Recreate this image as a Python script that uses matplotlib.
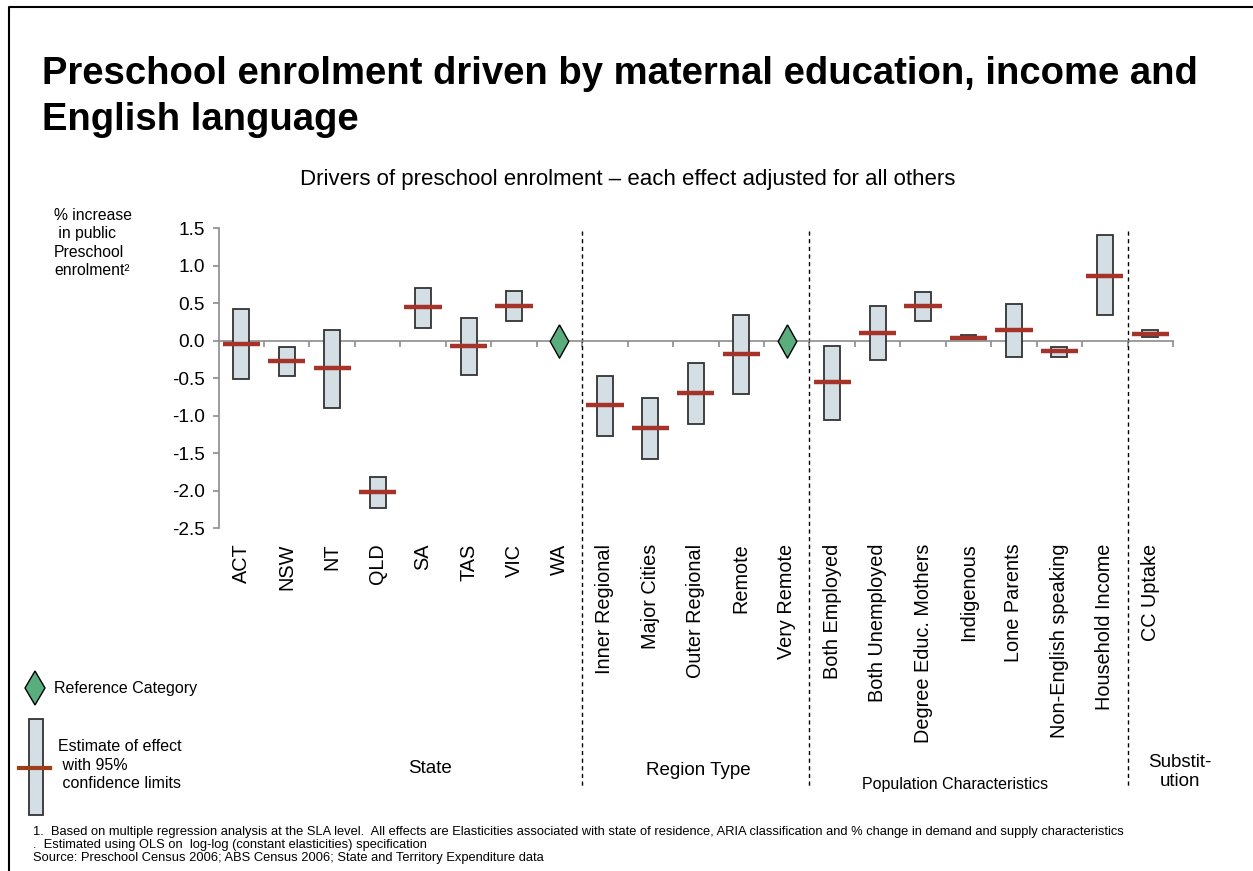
import matplotlib
matplotlib.use("Agg")
import matplotlib.pyplot as plt
from matplotlib.patches import Rectangle, Polygon
from matplotlib.lines import Line2D
import numpy as np

plt.rcParams['font.family'] = ['Liberation Sans', 'DejaVu Sans']

# ---- data -------------------------------------------------------------
categories = ["ACT", "NSW", "NT", "QLD", "SA", "TAS", "VIC", "WA",
              "Inner Regional", "Major Cities", "Outer Regional", "Remote", "Very Remote",
              "Both Employed", "Both Unemployed", "Degree Educ. Mothers", "Indigenous",
              "Lone Parents", "Non-English speaking", "Household Income",
              "CC Uptake"]
# None marks the reference category of each group
estimate = [-0.04, -0.27, -0.36, -2.02, 0.45, -0.07, 0.46, None,
            -0.86, -1.16, -0.69, -0.18, None,
            -0.55, 0.11, 0.46, 0.04, 0.15, -0.14, 0.86,
            0.095]
lower = [-0.505, -0.47, -0.89, -2.23, 0.175, -0.45, 0.27, None,
         -1.27, -1.57, -1.11, -0.705, None,
         -1.06, -0.25, 0.27, 0.02, -0.21, -0.21, 0.34,
         0.05]
upper = [0.42, -0.08, 0.14, -1.82, 0.71, 0.30, 0.67, None,
         -0.465, -0.76, -0.30, 0.34, None,
         -0.065, 0.47, 0.655, 0.08, 0.49, -0.08, 1.41,
         0.14]
group_breaks = [8, 13, 20]
yticks = [1.5, 1.0, 0.5, 0.0, -0.5, -1.0, -1.5, -2.0, -2.5]

# ---- styling ----------------------------------------------------------
W, H = 1253, 871
BOX_FILL = "#d3dfe4"
BOX_EDGE = "#333333"
EST_RED = "#a5332a"
DIAMOND = "#5aae7e"
AXIS_GREY = "#8c8c8c"


def fx(px):
    return px / W


def fy(py):
    return 1 - py / H


fig = plt.figure(figsize=(W / 100, H / 100), dpi=100)
ax = fig.add_axes([fx(218.6), fy(528.3), fx(1173) - fx(218.6), fy(228.3) - fy(528.3)])

n = len(categories)
xs = np.arange(n) + 0.5

for x, est, lo, hi in zip(xs, estimate, lower, upper):
    if est is None:
        diamond = [(0, 1), (0.56, 0), (0, -1), (-0.56, 0), (0, 1)]
        ax.plot([x], [0], marker=diamond, ms=24, mfc=DIAMOND, mec="black",
                mew=1.0, zorder=5, clip_on=False)
        continue
    ax.bar(x, hi - lo, bottom=lo, width=0.35, color=BOX_FILL,
           edgecolor=BOX_EDGE, linewidth=1.3, zorder=3)
    ax.hlines(est, x - 0.41, x + 0.41, color=EST_RED, linewidth=3.2, zorder=4)

ax.set_xlim(0, n)
ax.set_ylim(-2.5, 1.5)

# axes: grey y-axis, horizontal zero line carrying the category ticks
for s in ("top", "right"):
    ax.spines[s].set_visible(False)
ax.spines["left"].set_color(AXIS_GREY)
ax.spines["left"].set_linewidth(1.2)
ax.spines["bottom"].set_position(("data", 0))
ax.spines["bottom"].set_color(AXIS_GREY)
ax.spines["bottom"].set_linewidth(1.2)
ax.set_xticks(np.arange(1, n + 1))
ax.set_xticklabels([])
ax.tick_params(axis="x", direction="out", length=4, width=1.2, color=AXIS_GREY)
ax.set_yticks(yticks)
ax.set_yticklabels([f"{v:.1f}" for v in yticks], fontsize=13.7)
ax.tick_params(axis="y", direction="out", length=4, width=1.2,
               color=AXIS_GREY, pad=6)

# category names under the plotting area
for x, name in zip(xs, categories):
    ax.annotate(name, xy=(x, 0), xycoords=("data", "axes fraction"),
                xytext=(0, -11), textcoords="offset points",
                rotation=90, ha="center", va="top", fontsize=14.3)

# dashed group separators
for b in group_breaks:
    ax.plot([b, b], [1.47, -5.95], color="black", lw=1.0,
            ls=(0, (3, 2.5)), clip_on=False, zorder=2)

# group names
fig.text(fx(430), fy(768), "State", ha="center", va="center", fontsize=13.5)
fig.text(fx(698), fy(770), "Region Type", ha="center", va="center", fontsize=13.5)
fig.text(fx(955), fy(784), "Population Characteristics", ha="center",
         va="center", fontsize=11.5)
fig.text(fx(1180), fy(772), "Substit-\nution", ha="center", va="center",
         fontsize=13.5, linespacing=1.1)

# titles
fig.text(fx(42), fy(97), "Preschool enrolment driven by maternal education, income and\nEnglish language",
         ha="left", va="center", fontsize=27.5, fontweight="bold", linespacing=1.33)
fig.text(fx(628), fy(179), "Drivers of preschool enrolment \u2013 each effect adjusted for all others",
         ha="center", va="center", fontsize=16)
fig.text(fx(54), fy(243), "% increase\n in public\nPreschool\nenrolment\u00b2",
         ha="left", va="center", fontsize=11.3, linespacing=1.3)

# legend
leg_d = Polygon([(fx(25), fy(688)), (fx(35), fy(671)), (fx(45), fy(688)),
                 (fx(35), fy(705))], closed=True, facecolor=DIAMOND,
                edgecolor="black", linewidth=1.0, transform=fig.transFigure)
fig.patches.append(leg_d)
fig.text(fx(54), fy(688), "Reference Category", ha="left", va="center", fontsize=11.5)
leg_box = Rectangle((fx(29), fy(815)), fx(43) - fx(29), fy(719) - fy(815),
                    facecolor=BOX_FILL, edgecolor=BOX_EDGE, linewidth=1.3,
                    transform=fig.transFigure)
fig.patches.append(leg_box)
fig.lines.append(Line2D([fx(19), fx(50)], [fy(768), fy(768)], color="#9e3d17",
                        linewidth=3.0, transform=fig.transFigure))
fig.text(fx(58), fy(765), "Estimate of effect\n with 95%\n confidence limits",
         ha="left", va="center", fontsize=11.5, linespacing=1.3)

# footnotes
fig.text(fx(33), fy(832), "1.  Based on multiple regression analysis at the SLA level.  All effects are Elasticities "
         "associated with state of residence, ARIA classification and % change in demand and supply characteristics",
         ha="left", va="center", fontsize=9.3)
fig.text(fx(33), fy(845), ".  Estimated using OLS on  log-log (constant elasticities) specification",
         ha="left", va="center", fontsize=9.3)
fig.text(fx(33), fy(858), "Source: Preschool Census 2006; ABS Census 2006; State and Territory Expenditure data",
         ha="left", va="center", fontsize=9.3)

# page frame on the top and left
fig.lines.append(Line2D([fx(9), fx(9), fx(W)], [fy(H), fy(7.5), fy(7.5)],
                        color="black", linewidth=1.5, transform=fig.transFigure))

fig.savefig("out.png", dpi=100)
